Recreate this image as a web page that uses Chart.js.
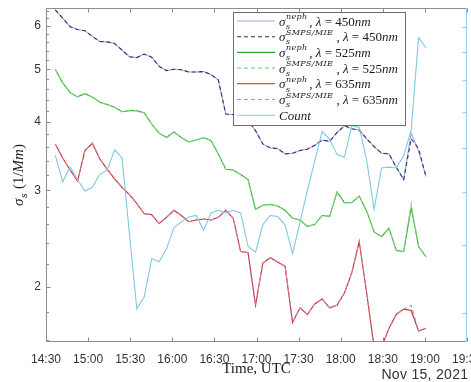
<!DOCTYPE html>
<html>
<head>
<meta charset="utf-8">
<script src="https://cdn.jsdelivr.net/npm/chart.js@4.4.1/dist/chart.umd.min.js"></script>
<style>
  html, body { margin: 0; padding: 0; background: #fff; }
</style>
</head>
<body>
<canvas id="chart" width="471" height="382"></canvas>
<script>
// minutes after 14:30 UTC, Nov 15 2021
const times = [6.6, 11.9, 17.2, 22.5, 27.7, 33.0, 38.3, 43.6, 48.9, 54.2, 59.4, 64.7, 70.0, 75.3, 80.6, 85.9, 91.1, 96.4, 101.7, 107.0,
    112.3, 117.6, 122.8, 128.1, 133.4, 138.7, 144.0, 149.3, 154.5, 159.8, 165.1, 170.4, 175.7, 181.0, 186.2, 191.5, 196.8, 202.1, 207.4, 212.7,
    217.9, 223.2, 228.5, 233.8, 239.1, 244.4, 249.6, 254.9, 260.2, 265.5, 270.8];

const neph450 = [6.42, 6.20, 5.98, 5.91, 5.88, 5.74, 5.62, 5.61, 5.57, 5.42, 5.27, 5.25, 5.33, 5.26, 5.06, 4.97, 5.00, 4.99, 4.94, 4.94,
    4.95, 4.89, 4.78, 4.14, 4.13, 4.07, 4.02, 3.86, 3.65, 3.59, 3.58, 3.50, 3.51, 3.55, 3.57, 3.63, 3.71, 3.69, 3.83, 3.94,
    3.89, 3.87, 3.73, 3.61, 3.51, 3.50, 3.31, 3.14, 3.82, 3.54, 3.18];
const smps450 = [6.42, 6.20, 5.98, 5.91, 5.88, 5.74, 5.62, 5.61, 5.57, 5.42, 5.27, 5.25, 5.33, 5.26, 5.06, 4.97, 5.00, 4.99, 4.94, 4.94,
    4.95, 4.89, 4.78, 4.14, 4.13, 4.07, 4.02, 3.86, 3.65, 3.59, 3.58, 3.50, 3.51, 3.55, 3.57, 3.63, 3.71, 3.69, 3.83, 3.94,
    3.89, 3.87, 3.73, 3.61, 3.51, 3.50, 3.31, 3.14, 3.73, 3.58, 3.18];

const neph525 = [5.00, 4.72, 4.53, 4.45, 4.51, 4.45, 4.35, 4.31, 4.26, 4.18, 4.20, 4.20, 4.16, 3.97, 3.82, 3.75, 3.84, 3.75, 3.68, 3.71,
    3.75, 3.70, 3.50, 3.28, 3.27, 3.21, 3.14, 2.77, 2.82, 2.83, 2.81, 2.76, 2.67, 2.65, 2.58, 2.60, 2.70, 2.69, 2.98, 2.85,
    2.85, 2.93, 2.75, 2.52, 2.47, 2.56, 2.33, 2.32, 2.79, 2.37, 2.27];
const smps525 = [5.00, 4.72, 4.53, 4.45, 4.51, 4.45, 4.35, 4.31, 4.26, 4.18, 4.20, 4.20, 4.16, 3.97, 3.82, 3.75, 3.84, 3.75, 3.68, 3.71,
    3.75, 3.70, 3.50, 3.28, 3.27, 3.21, 3.14, 2.77, 2.82, 2.83, 2.81, 2.76, 2.67, 2.65, 2.58, 2.60, 2.70, 2.69, 2.98, 2.85,
    2.85, 2.93, 2.75, 2.52, 2.47, 2.56, 2.33, 2.32, 2.84, 2.37, 2.27];

const neph635 = [3.65, 3.44, 3.27, 3.12, 3.55, 3.66, 3.43, 3.28, 3.15, 3.04, 2.95, 2.84, 2.72, 2.71, 2.61, 2.68, 2.76, 2.70, 2.63, 2.65,
    2.66, 2.65, 2.68, 2.76, 2.67, 2.32, 2.31, 1.85, 2.21, 2.26, 2.22, 2.18, 1.72, 1.83, 1.78, 1.86, 1.90, 1.83, 1.85, 1.95,
    2.12, 2.42, 1.95, 1.55, 1.55, 1.68, 1.78, 1.82, 1.81, 1.66, 1.68];
const smps635 = [3.65, 3.44, 3.27, 3.12, 3.55, 3.66, 3.43, 3.28, 3.15, 3.04, 2.95, 2.84, 2.72, 2.71, 2.61, 2.68, 2.76, 2.70, 2.63, 2.65,
    2.66, 2.65, 2.68, 2.76, 2.67, 2.32, 2.31, 1.85, 2.21, 2.26, 2.22, 2.18, 1.72, 1.83, 1.78, 1.86, 1.90, 1.83, 1.85, 1.95,
    2.12, 2.42, 1.95, 1.55, 1.55, 1.68, 1.78, 1.82, 1.85, 1.66, 1.68];

// right axis (labels cut off in the picture)
const count = [5.83, 5.21, 5.54, 5.26, 5.01, 5.09, 5.37, 5.47, 5.96, 5.76, 4.20, 3.05, 3.21, 3.77, 3.72, 3.93, 4.29, 4.40, 4.49, 4.52,
    4.25, 4.57, 4.62, 4.57, 4.62, 4.57, 3.97, 3.87, 4.35, 4.52, 4.50, 4.34, 3.85, 4.39, 5.02, 5.69, 6.44, 6.23, 5.84, 5.78,
    6.60, 6.55, 5.71, 4.64, 5.52, 5.54, 5.52, 5.81, 6.48, 9.56, 9.16];

const xTicks = [0, 30, 60, 90, 120, 150, 180, 210, 240, 270, 300];
const xTickLabels = ['14:30', '15:00', '15:30', '16:00', '16:30', '17:00', '17:30', '18:00', '18:30', '19:00', '19:30'];
const yTicks = [2, 3, 4, 5, 6];
const yMinorTicks = [1.6, 1.8, 2.2, 2.4, 2.6, 2.8, 3.2, 3.4, 3.6, 3.8, 4.2, 4.4, 4.6, 4.8, 5.2, 5.4, 5.6, 5.8, 6.2, 6.4];
const countTicks = [3, 4, 5, 6, 7, 8, 9, 10];
const sources = ['neph', 'SMPS/MIE', 'neph', 'SMPS/MIE', 'neph', 'SMPS/MIE'];
const wavelengths = ['450', '450', '525', '525', '635', '635'];

const SERIF = '"Liberation Serif", serif';
const SMALL = '"DejaVu Serif", serif';
const SANS = '"Liberation Sans", Arial, sans-serif';
const colors = ['#a6a6d8', '#2f2f7a', '#30b030', '#86d386', '#c42b2b', '#cf86a8', '#80c9e2'];

function series(label, values, color, dashed, axis, order) {
    return {
        label,
        data: values.map((v, i) => ({ x: times[i], y: v })),
        borderColor: color,
        borderWidth: 1.1,
        borderDash: dashed ? [4, 3] : [],
        pointRadius: 0,
        fill: false,
        tension: 0,
        yAxisID: axis,
        order
    };
}

// sigma with sub "s" and optional superscript, returns new x
function drawSigma(ctx, x, y, size, sup) {
    ctx.font = `italic ${size}px ${SERIF}`;
    ctx.fillText('σ', x, y);
    x += ctx.measureText('σ').width + 0.5;
    ctx.font = `italic ${Math.round(size * 0.62)}px ${SMALL}`;
    let w = ctx.measureText('s').width;
    ctx.fillText('s', x, y + size * 0.25);
    if (sup) {
        ctx.letterSpacing = '0.35px';
        ctx.fillText(sup, x, y - size * 0.5);
        w = Math.max(w, ctx.measureText(sup).width + sup.length * 0.35);
        ctx.letterSpacing = '0px';
    }
    return x + w + 0.5;
}

function drawRun(ctx, parts, x, y, size) {
    parts.forEach(([t, italic]) => {
        ctx.font = `${italic ? 'italic ' : ''}${size}px ${SERIF}`;
        ctx.fillText(t, x, y);
        x += ctx.measureText(t).width;
    });
    return x;
}

const framePlugin = {
    id: 'frame',
    afterDatasetsDraw(chart) {
        const { ctx, chartArea: a, scales } = chart;
        const L = Math.round(a.left) + 0.5, R = Math.round(a.right) - 0.5;
        const T = Math.round(a.top) + 0.5, B = Math.round(a.bottom) - 0.5;
        ctx.save();
        ctx.lineWidth = 1;

        // box + inward ticks
        ctx.strokeStyle = '#8c8c8c';
        ctx.beginPath();
        ctx.moveTo(R, T); ctx.lineTo(L, T); ctx.lineTo(L, B); ctx.lineTo(R, B);
        xTicks.forEach(v => {
            const px = Math.round(scales.x.getPixelForValue(v)) + 0.5;
            ctx.moveTo(px, B); ctx.lineTo(px, B - 4);
            ctx.moveTo(px, T); ctx.lineTo(px, T + 4);
        });
        yTicks.forEach(v => {
            const py = Math.round(scales.y.getPixelForValue(v)) + 0.5;
            ctx.moveTo(L, py); ctx.lineTo(L + 4, py);
        });
        yMinorTicks.forEach(v => {
            const py = Math.round(scales.y.getPixelForValue(v)) + 0.5;
            ctx.moveTo(L, py); ctx.lineTo(L + 2.5, py);
        });
        ctx.stroke();

        ctx.strokeStyle = '#93d0e6';
        ctx.beginPath();
        ctx.moveTo(R, T); ctx.lineTo(R, B);
        countTicks.forEach(v => {
            const py = Math.round(scales.y2.getPixelForValue(v)) + 0.5;
            ctx.moveTo(R, py); ctx.lineTo(R - 4, py);
        });
        ctx.stroke();

        // legend
        const bx = 233.5, by = 12.5, bw = 172, bh = 113;
        ctx.fillStyle = '#fff';
        ctx.fillRect(bx, by, bw, bh);
        ctx.strokeStyle = '#6e6e6e';
        ctx.strokeRect(bx, by, bw, bh);
        chart.data.datasets.forEach((ds, i) => {
            const cy = 21 + i * 15.7;
            ctx.strokeStyle = ds.borderColor;
            ctx.lineWidth = 1.1;
            ctx.setLineDash(ds.borderDash);
            ctx.beginPath();
            ctx.moveTo(237, cy); ctx.lineTo(275, cy);
            ctx.stroke();
            ctx.setLineDash([]);
            ctx.fillStyle = '#1a1a1a';
            ctx.textBaseline = 'alphabetic';
            const base = cy + 4.5;
            if (i < sources.length) {
                const x = drawSigma(ctx, 279, base, 13, sources[i]);
                drawRun(ctx, [[', ', false], ['λ', true], [' = ' + wavelengths[i], false], ['nm', true]], x, base, 13);
            } else {
                drawRun(ctx, [['Count', true]], 279, base, 13);
            }
        });
        ctx.restore();
    },
    afterDraw(chart) {
        const { ctx, chartArea: a } = chart;
        ctx.save();
        ctx.fillStyle = '#1a1a1a';
        ctx.textBaseline = 'alphabetic';

        // y title, measured first then centred
        ctx.save();
        ctx.translate(23, (a.top + a.bottom) / 2);
        ctx.rotate(-Math.PI / 2);
        ctx.globalAlpha = 0;
        let w = drawSigma(ctx, 0, 0, 15, null);
        w = drawRun(ctx, [[' (1/', false], ['Mm', true], [')', false]], w, 0, 15);
        ctx.globalAlpha = 1;
        const x1 = drawSigma(ctx, -w / 2, 0, 15, null);
        drawRun(ctx, [[' (1/', false], ['Mm', true], [')', false]], x1, 0, 15);
        ctx.restore();

        ctx.font = `15px ${SERIF}`;
        ctx.textAlign = 'center';
        ctx.fillText('Time, UTC', (a.left + a.right) / 2, 373);

        ctx.font = `14px ${SANS}`;
        ctx.fillStyle = '#333';
        ctx.letterSpacing = '0.3px';
        ctx.fillText('Nov 15, 2021', chart.scales.x.getPixelForValue(270), 379);
        ctx.restore();
    }
};

const datasets = [
    series('σs neph, λ = 450nm', neph450, colors[0], false, 'y', 6),
    series('σs SMPS/MIE, λ = 450nm', smps450, colors[1], true, 'y', 3),
    series('σs neph, λ = 525nm', neph525, colors[2], false, 'y', 5),
    series('σs SMPS/MIE, λ = 525nm', smps525, colors[3], true, 'y', 2),
    series('σs neph, λ = 635nm', neph635, colors[4], false, 'y', 4),
    series('σs SMPS/MIE, λ = 635nm', smps635, colors[5], true, 'y', 1),
    series('Count', count, colors[6], false, 'y2', 0)
];

new Chart(document.getElementById('chart'), {
    type: 'line',
    data: { datasets },
    options: {
        responsive: false,
        animation: false,
        devicePixelRatio: 1,
        layout: { padding: { left: 0, right: 0, top: 8, bottom: 0 } },
        plugins: { legend: { display: false }, tooltip: { enabled: false } },
        scales: {
            x: {
                type: 'linear',
                position: 'bottom',
                min: 0,
                max: 300,
                afterBuildTicks: s => { s.ticks = xTicks.map(v => ({ value: v })); },
                afterFit: s => { s.height = 40; s.paddingLeft = 0; s.paddingRight = 0; },
                grid: { display: false, drawTicks: false },
                border: { display: false },
                ticks: {
                    autoSkip: false,
                    maxRotation: 0,
                    minRotation: 0,
                    padding: 10,
                    color: '#333',
                    font: { family: 'Liberation Sans', size: 12 },
                    callback: v => xTickLabels[xTicks.indexOf(v)]
                }
            },
            y: {
                type: 'logarithmic',
                position: 'left',
                min: 1.585,
                max: 6.47,
                afterBuildTicks: s => { s.ticks = yTicks.map(v => ({ value: v })); },
                afterFit: s => { s.width = 46; s.paddingTop = 0; s.paddingBottom = 0; },
                grid: { display: false, drawTicks: false },
                border: { display: false },
                ticks: {
                    padding: 5,
                    color: '#333',
                    font: { family: 'Liberation Sans', size: 12 },
                    callback: v => String(v)
                }
            },
            y2: {
                type: 'logarithmic',
                position: 'right',
                min: 2.653,
                max: 10.83,
                afterBuildTicks: s => { s.ticks = countTicks.map(v => ({ value: v })); },
                afterFit: s => { s.width = 4; s.paddingTop = 0; s.paddingBottom = 0; },
                grid: { display: false, drawTicks: false },
                border: { display: false },
                ticks: { display: false }
            }
        }
    },
    plugins: [framePlugin]
});
</script>
</body>
</html>
